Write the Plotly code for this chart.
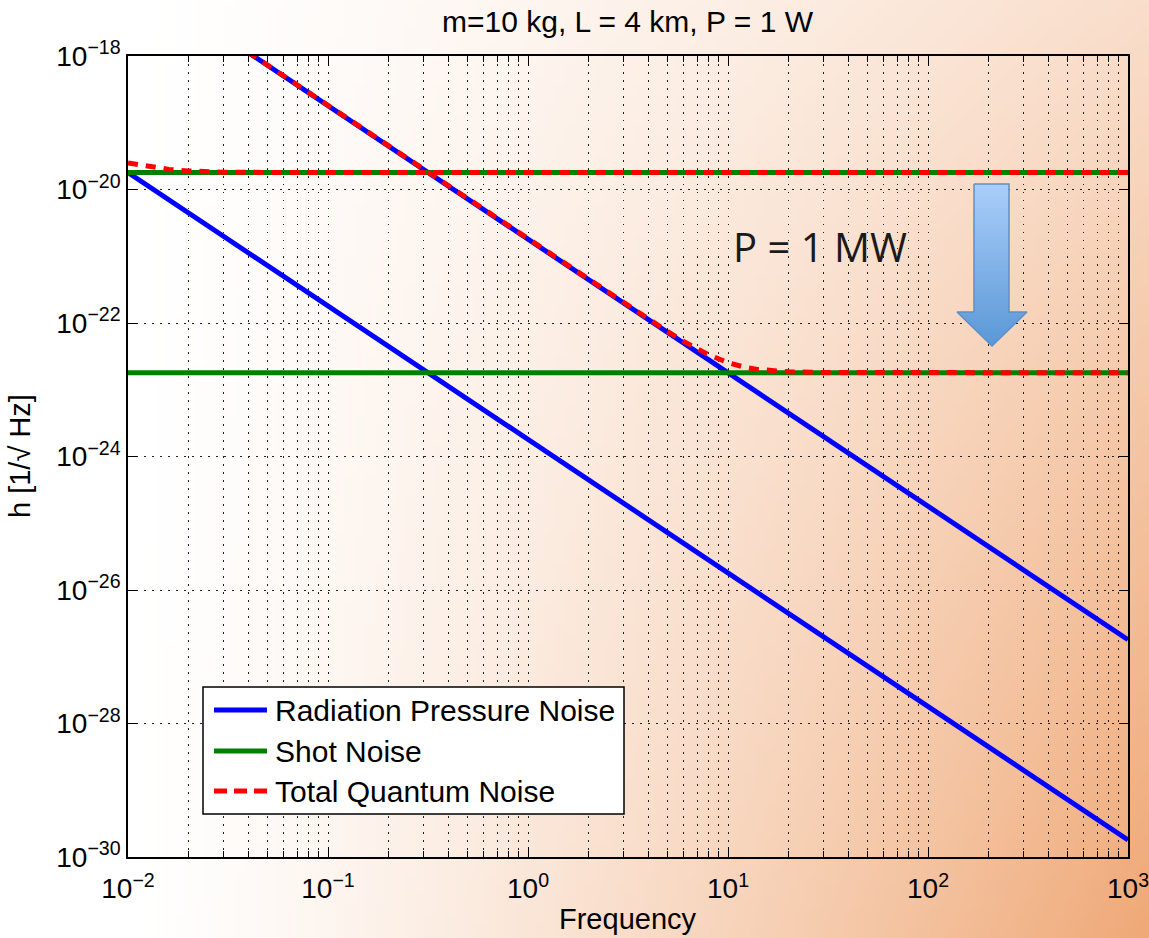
import base64
import struct
import zlib

import plotly.graph_objects as go

# ---------------- data ----------------
freq = [0.01, 0.1, 1, 10, 100, 1000]
rad_pressure_1W = [1.8e-20, 1.8e-22, 1.8e-24, 1.8e-26, 1.8e-28, 1.8e-30]
rad_pressure_1MW = [1.8e-17, 1.8e-19, 1.8e-21, 1.8e-23, 1.8e-25, 1.8e-27]
shot_1W = [1.8e-20, 1.8e-20, 1.8e-20, 1.8e-20, 1.8e-20, 1.8e-20]
shot_1MW = [1.8e-23, 1.8e-23, 1.8e-23, 1.8e-23, 1.8e-23, 1.8e-23]

freq_total_1W = [0.01, 0.013, 0.016, 0.02, 0.03, 0.05, 0.1, 1, 10, 100, 1000]
total_1W = [2.5e-20, 2.2e-20, 2.0e-20, 1.9e-20, 1.82e-20, 1.8e-20,
            1.8e-20, 1.8e-20, 1.8e-20, 1.8e-20, 1.8e-20]

freq_total_1MW = [0.01, 0.1, 1, 2, 3, 4, 5, 6, 7, 8, 10, 12, 14, 16, 20,
                  30, 50, 100, 1000]
total_1MW = [1.8e-17, 1.8e-19, 1.8e-21, 4.5e-22, 2.0e-22, 1.14e-22, 7.4e-23,
             5.3e-23, 4.1e-23, 3.34e-23, 2.55e-23, 2.19e-23, 2.02e-23,
             1.93e-23, 1.86e-23, 1.81e-23, 1.8e-23, 1.8e-23, 1.8e-23]

x_tickvals = [1e-2, 1e-1, 1e0, 1e1, 1e2, 1e3]
x_ticktext = ["10<sup>\u22122</sup>", "10<sup>\u22121</sup>", "10<sup>0</sup>",
              "10<sup>1</sup>", "10<sup>2</sup>", "10<sup>3</sup>"]
y_tickvals = [1e-30, 1e-28, 1e-26, 1e-24, 1e-22, 1e-20, 1e-18]
y_ticktext = ["10<sup>\u2212%d</sup>" % n for n in (30, 28, 26, 24, 22, 20, 18)]

legend_labels = ["Radiation Pressure Noise", "Shot Noise", "Total Quantum Noise"]

# ---------------- layout geometry ----------------
W, H = 1149, 938
L, R, T, B = 128, 1128, 56, 857          # plot area in pixels
PW, PH = R - L, B - T

def px(x):
    return (x - L) / PW

def py(y):
    return (B - y) / PH

FONT = "Liberation Sans, Arial, Helvetica, sans-serif"
BLUE, GREEN, RED = "#0000FF", "#008000", "#FF0000"

# ---------------- background gradient image ----------------
def make_bg():
    w, h = 115, 94
    rows = []
    full = (239, 168, 118)
    for j in range(h):
        v = (j + 0.5) / h
        row = bytearray()
        for i in range(w):
            u = (i + 0.5) / w
            t = max(0.0, (u - 0.12) / 0.88)
            k = (t ** 1.3) * (0.38 + 0.62 * v)
            for c in full:
                row.append(int(round(255 + (c - 255) * k)))
        rows.append(row)
    raw = b"".join(b"\x00" + bytes(r) for r in rows)

    def chunk(tag, data):
        return (struct.pack(">I", len(data)) + tag + data +
                struct.pack(">I", zlib.crc32(tag + data) & 0xffffffff))

    png = (b"\x89PNG\r\n\x1a\n" +
           chunk(b"IHDR", struct.pack(">IIBBBBB", w, h, 8, 2, 0, 0, 0)) +
           chunk(b"IDAT", zlib.compress(raw, 9)) + chunk(b"IEND", b""))
    return "data:image/png;base64," + base64.b64encode(png).decode()

fig = go.Figure()

line_w = 5
dash = "10px,8px"
fig.add_trace(go.Scatter(x=freq, y=rad_pressure_1W, mode="lines",
                         line=dict(color=BLUE, width=line_w),
                         name="Radiation Pressure Noise", showlegend=False))
fig.add_trace(go.Scatter(x=freq, y=rad_pressure_1MW, mode="lines",
                         line=dict(color=BLUE, width=line_w),
                         name="Radiation Pressure Noise (1 MW)", showlegend=False))
fig.add_trace(go.Scatter(x=freq, y=shot_1W, mode="lines",
                         line=dict(color=GREEN, width=line_w),
                         name="Shot Noise", showlegend=False))
fig.add_trace(go.Scatter(x=freq, y=shot_1MW, mode="lines",
                         line=dict(color=GREEN, width=line_w),
                         name="Shot Noise (1 MW)", showlegend=False))
fig.add_trace(go.Scatter(x=freq_total_1W, y=total_1W, mode="lines",
                         line=dict(color=RED, width=line_w, dash=dash),
                         name="Total Quantum Noise", showlegend=False))
fig.add_trace(go.Scatter(x=freq_total_1MW, y=total_1MW, mode="lines",
                         line=dict(color=RED, width=line_w, dash=dash),
                         name="Total Quantum Noise (1 MW)", showlegend=False))

# arrow (decoration) on a pixel-space overlay axis
arrow_x = [974, 1009, 1009, 1027, 992, 957, 974, 974]
arrow_y = [184, 184, 312, 312, 346, 312, 312, 184]
fig.add_trace(go.Scatter(
    x=arrow_x, y=arrow_y, xaxis="x2", yaxis="y2", mode="lines",
    fill="toself",
    fillgradient=dict(type="vertical", start=346, stop=184,
                      colorscale=[[0, "#5A98D6"], [1, "#AACEFA"]]),
    line=dict(color="#5F8FC9", width=1.5), hoverinfo="skip", showlegend=False))

grid_dash = "1.5px,6.5px"
grid_color = "#222222"

fig.update_layout(
    width=W, height=H,
    margin=dict(l=L, r=W - R, t=T, b=H - B, pad=0, autoexpand=False),
    paper_bgcolor="white",
    plot_bgcolor="rgba(0,0,0,0)",
    font=dict(family=FONT, size=28, color="black"),
    showlegend=False,
    xaxis=dict(
        type="log", range=[-2, 3], automargin=False,
        tickmode="array", tickvals=x_tickvals, ticktext=x_ticktext,
        ticks="inside", ticklen=10, tickwidth=1.2, tickcolor="black",
        ticklabeloverflow="allow", ticklabelstandoff=6,
        showline=True, linecolor="black", linewidth=1.5, mirror="ticks",
        showgrid=True, gridcolor=grid_color, gridwidth=1, griddash=grid_dash,
        zeroline=False,
        tickfont=dict(family=FONT, size=28, color="black"),
        minor=dict(dtick="D1", ticks="inside", ticklen=6, tickwidth=1,
                   tickcolor="black", showgrid=True, gridcolor=grid_color,
                   gridwidth=1, griddash=grid_dash),
    ),
    yaxis=dict(
        type="log", range=[-30, -18], automargin=False,
        tickmode="array", tickvals=y_tickvals, ticktext=y_ticktext,
        ticks="inside", ticklen=9, tickwidth=1.2, tickcolor="black",
        ticklabeloverflow="allow",
        showline=True, linecolor="black", linewidth=1.5, mirror="ticks",
        showgrid=True, gridcolor=grid_color, gridwidth=1, griddash=grid_dash,
        zeroline=False,
        tickfont=dict(family=FONT, size=28, color="black"),
    ),
    xaxis2=dict(overlaying="x", anchor="y2", range=[L, R], visible=False,
                fixedrange=True, automargin=False),
    yaxis2=dict(overlaying="y", anchor="x2", range=[B, T], visible=False,
                fixedrange=True, automargin=False),
    images=[dict(source=make_bg(), xref="paper", yref="paper",
                 x=-L / PW, y=1 + T / PH, sizex=W / PW, sizey=H / PH,
                 xanchor="left", yanchor="top", sizing="stretch",
                 layer="below")],
)

# custom legend (pixel coordinates on the overlay axes)
fig.add_shape(type="rect", xref="x2", yref="y2", x0=203, x1=624, y0=687, y1=814,
              fillcolor="white", line=dict(color="black", width=1.5), layer="above")
legend_rows = [710, 751, 791]
legend_styles = [dict(color=BLUE, width=5), dict(color=GREEN, width=5),
                 dict(color=RED, width=5, dash="13px,7px")]
for yrow, label, st in zip(legend_rows, legend_labels, legend_styles):
    fig.add_shape(type="line", xref="x2", yref="y2", x0=214, x1=267, y0=yrow,
                  y1=yrow, line=st, layer="above")
    fig.add_annotation(xref="x2", yref="y2", x=273, y=yrow, text=label,
                       showarrow=False, xanchor="left", yanchor="middle",
                       font=dict(family=FONT, size=30, color="black"))

# in-plot text
fig.add_annotation(xref="x2", yref="y2", x=731, y=246, text="P = 1 MW",
                   showarrow=False, xanchor="left", yanchor="middle",
                   font=dict(family="Open Sans, sans-serif", size=40, color="#1a1a1a"))

# title and axis labels
fig.add_annotation(xref="paper", yref="paper", x=px(628), y=py(22),
                   text="m=10 kg, L = 4 km, P = 1 W", showarrow=False,
                   xanchor="center", yanchor="middle",
                   font=dict(family=FONT, size=30, color="black"))
fig.add_annotation(xref="paper", yref="paper", x=px(628), y=py(919),
                   text="Frequency", showarrow=False,
                   xanchor="center", yanchor="middle",
                   font=dict(family=FONT, size=29, color="black"))
fig.add_annotation(xref="paper", yref="paper", x=px(20), y=py(456),
                   text="h [1/\u221a Hz]", showarrow=False, textangle=-90,
                   xanchor="center", yanchor="middle",
                   font=dict(family=FONT, size=29, color="black"))

fig.write_html("out.html")
